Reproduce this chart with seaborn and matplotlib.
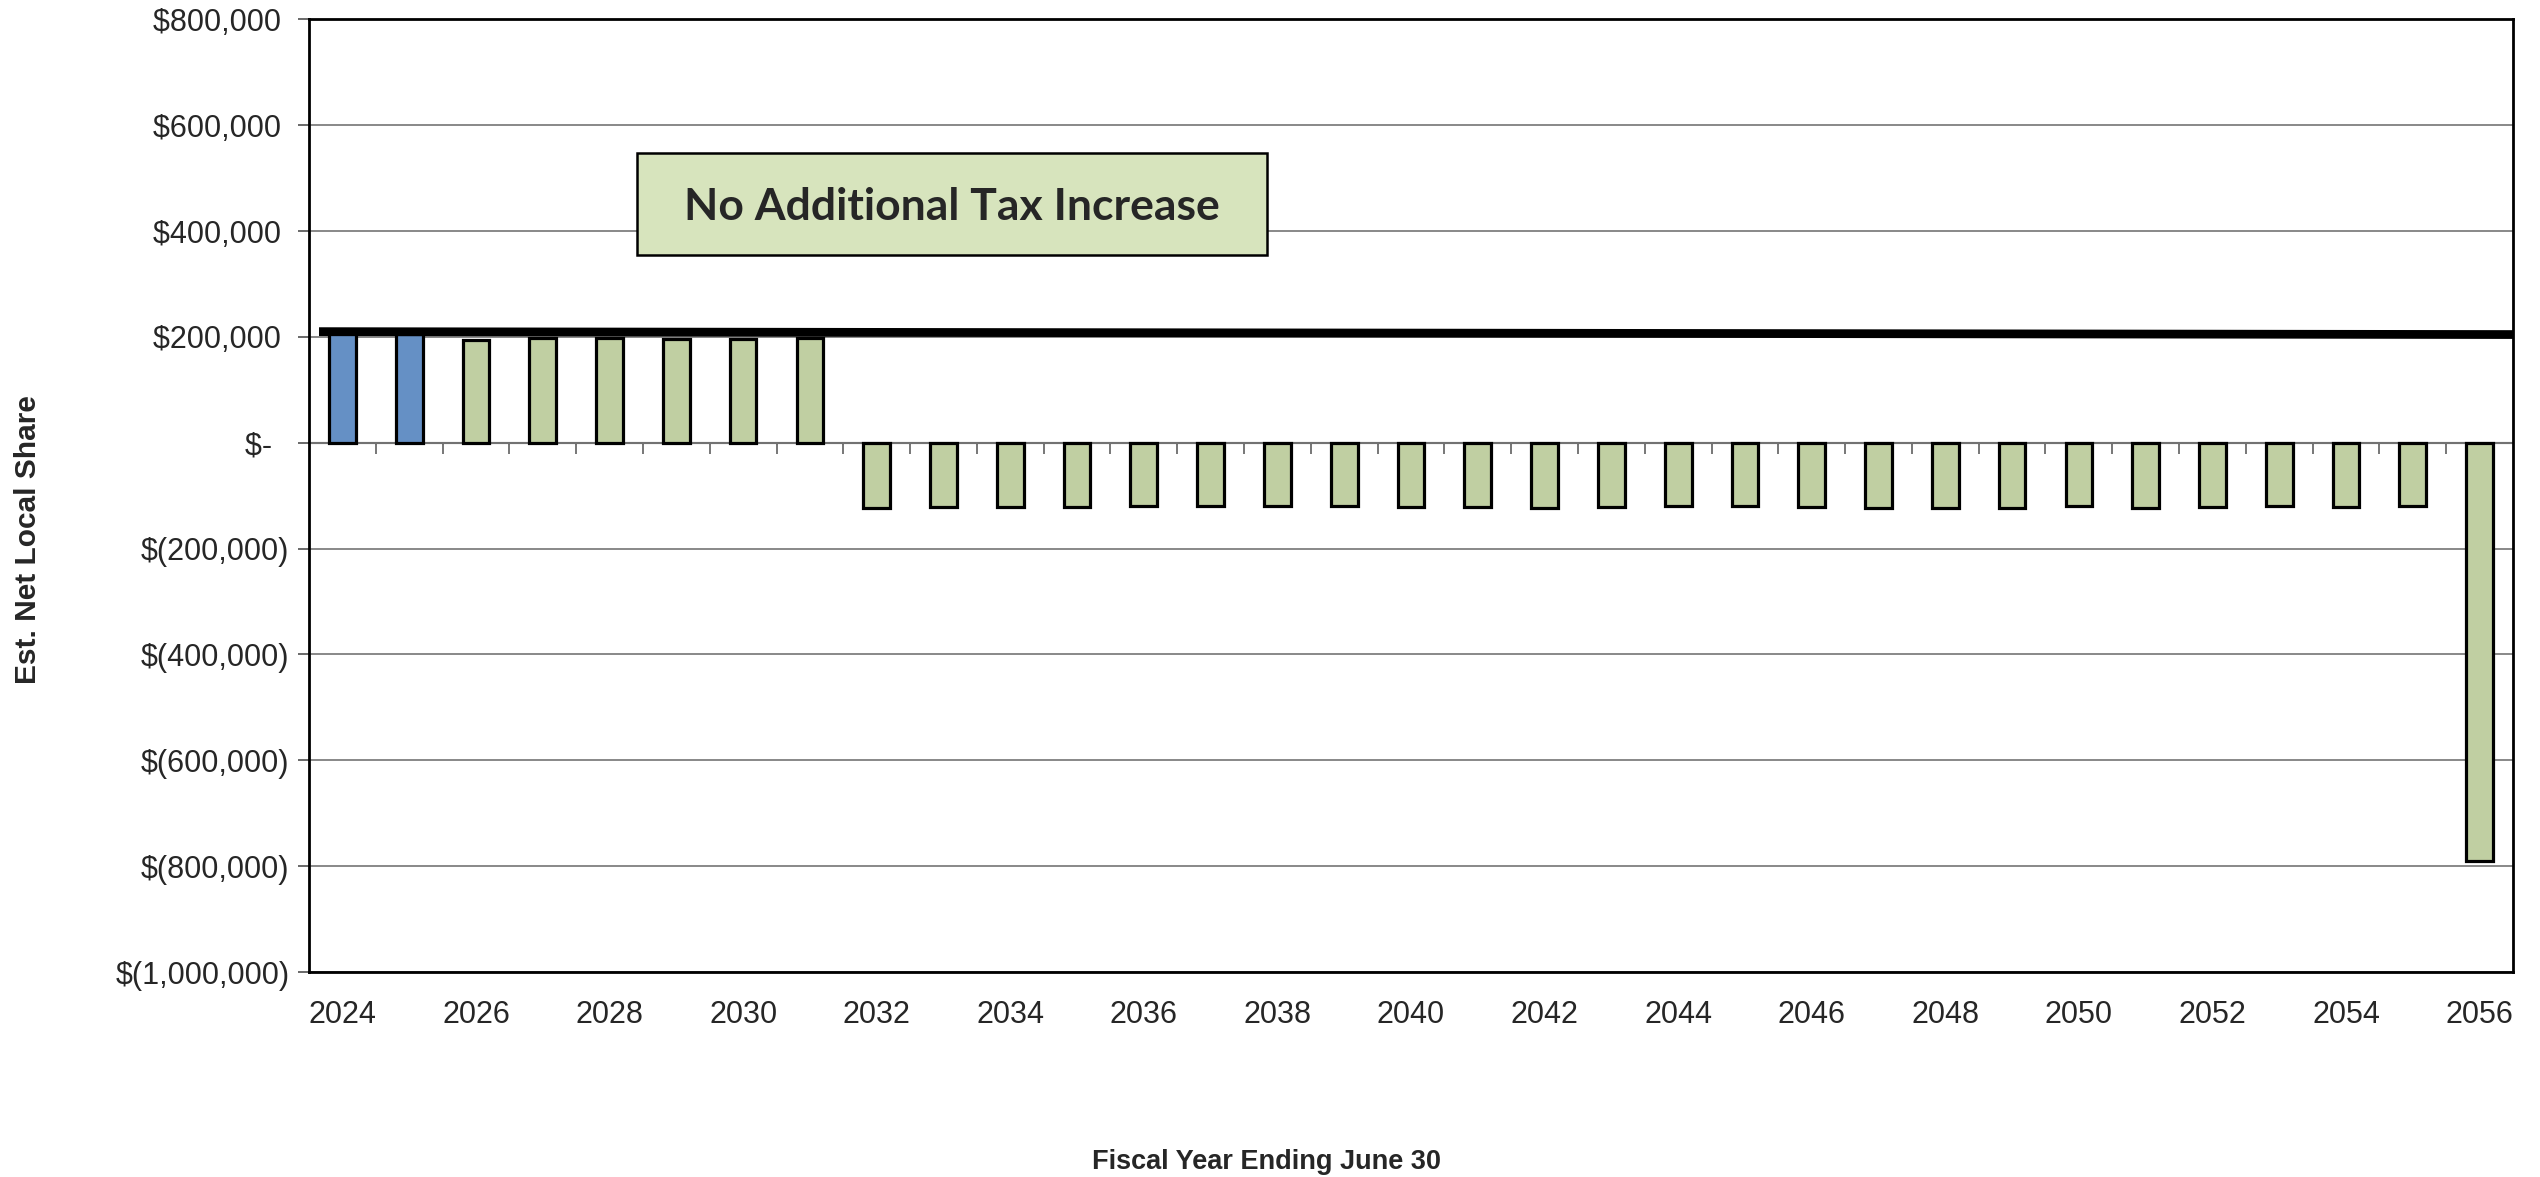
import numpy as np
import pandas as pd
import matplotlib
matplotlib.use("Agg")
import matplotlib.pyplot as plt
import seaborn as sns

# ---- data ----
years = list(range(2024, 2057))
values = [205000, 205000, 195000, 197500, 197500, 196000, 195500, 197500,
          -123200, -121300, -120600, -121300, -119400, -118800, -118800, -118800,
          -121900, -121300, -123200, -121300, -119400, -119400, -120600, -123800,
          -122500, -122500, -118800, -122500, -122000, -118600, -122000, -118600,
          -790000]
groups = ["actual", "actual"] + ["projected"] * 31
group_colors = {"actual": "#558ED5", "projected": "#C3D69B"}
yticks = [800000, 600000, 400000, 200000, 0, -200000, -400000, -600000, -800000, -1000000]
line_vals = [210000, 204500]
box_text = "No Additional Tax Increase"
xlabel = "Fiscal Year Ending June 30"
ylabel = "Est. Net Local Share"

df = pd.DataFrame({"year": [str(y) for y in years], "value": values, "group": groups})

sns.set_theme(style="white")
plt.rcParams["font.family"] = ["Liberation Sans", "DejaVu Sans"]

fig = plt.figure(figsize=(25.4, 11.77), dpi=100)
ax = fig.add_axes([309 / 2540, 1 - 972 / 1177, (2513 - 309) / 2540, (972 - 19.4) / 1177])

sns.barplot(data=df, x="year", y="value", hue="group", palette=group_colors,
            dodge=False, width=0.4, edgecolor="black", linewidth=2.3,
            legend=False, ax=ax, zorder=3)

n = len(years)
ax.set_xlim(-0.5, n - 0.5)
ax.set_ylim(-1000000, 800000)

# grid
ax.set_yticks(yticks)
ax.yaxis.grid(True, color="#7f7f7f", linewidth=1.3, zorder=0)
ax.xaxis.grid(False)
ax.set_axisbelow(True)


def fmt(v):
    if v == 0:
        return "$-  "
    if v < 0:
        return "$({:,})".format(-v)
    return "${:,} ".format(v)


ax.set_yticklabels([fmt(v) for v in yticks], fontsize=22)
ax.tick_params(axis="y", which="major", direction="out", length=8, width=1.2,
               color="#505050", left=True, pad=6)

# x tick labels at bottom, every two years
xt = list(range(0, n, 2))
ax.set_xticks(xt)
ax.set_xticklabels([str(years[i]) for i in xt], fontsize=22)
ax.tick_params(axis="x", which="major", length=0, pad=20)

for s in ax.spines.values():
    s.set_visible(True)
    s.set_color("black")
    s.set_linewidth(2.0)

# zero axis with category-boundary ticks
zero_frac = (0 - (-1000000)) / 1800000
sec = ax.secondary_xaxis(zero_frac)
sec.set_alignment("bottom")
sec.set_xticks([i + 0.5 for i in range(n - 1)])
sec.set_xticklabels([])
sec.tick_params(axis="x", direction="out", length=8, width=1.2, color="#606060")
sec.spines["bottom"].set_linewidth(1.5)
sec.spines["bottom"].set_color("black")
sec.spines["top"].set_visible(False)

# thick reference line
ax.plot([-0.35, n - 0.5], line_vals, color="black", linewidth=6.3,
        solid_capstyle="butt", zorder=5, clip_on=False)

# annotation box
x0, x1 = 4.41, 13.84
y0, y1 = 354000, 546700
ax.add_patch(plt.Rectangle((x0, y0), x1 - x0, y1 - y0, facecolor="#D7E4BD",
                           edgecolor="black", linewidth=1.8, zorder=6))
ax.text((x0 + x1) / 2, (y0 + y1) / 2 - 5000, box_text, ha="center", va="center",
        fontsize=32, fontweight="bold", family=["Lato", "DejaVu Sans"], zorder=7)

ax.set_xlabel("")
ax.set_ylabel("")
fig.text(1267 / 2540, 1 - 1162 / 1177, xlabel, ha="center", va="center",
         fontsize=19.5, fontweight="bold")
fig.text(28 / 2540, 1 - 540 / 1177, ylabel, ha="center", va="center",
         rotation=90, fontsize=21.5, fontweight="bold")

fig.savefig("out.png", dpi=100, facecolor="white")
